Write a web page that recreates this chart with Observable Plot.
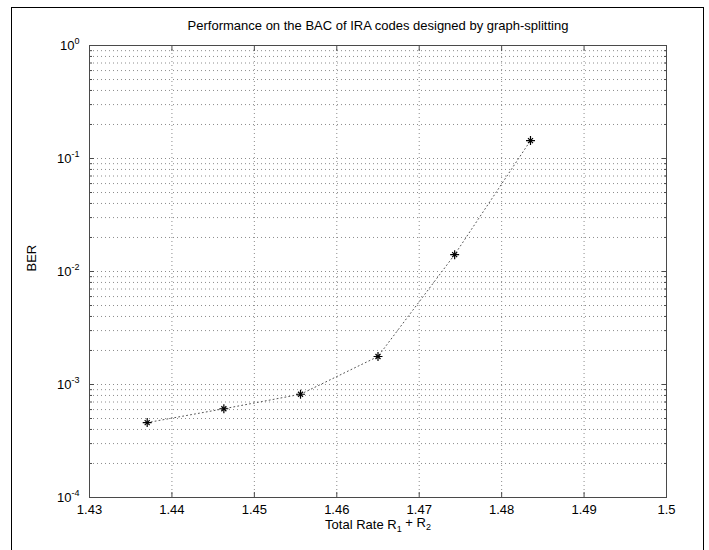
<!DOCTYPE html>
<html><head><meta charset="utf-8">
<script src="https://cdn.jsdelivr.net/npm/d3@7"></script>
<script src="https://cdn.jsdelivr.net/npm/@observablehq/plot@0.6"></script>
<style>
body{margin:0;background:#fff;}
#wrap{position:relative;width:709px;height:550px;overflow:hidden;background:#fff;}
#border{position:absolute;left:11px;top:7px;width:693px;height:620px;border:1.5px solid #000;box-sizing:border-box;}
#chart{position:absolute;left:0;top:0;}
</style></head><body><div id="wrap"><div id="border"></div><div id="chart"></div></div>
<script>
const rate = [1.4370, 1.4463, 1.4556, 1.4650, 1.4743, 1.4835];
const ber = [4.6e-4, 6.1e-4, 8.2e-4, 1.77e-3, 1.41e-2, 1.44e-1];
const xTicks = [1.43, 1.44, 1.45, 1.46, 1.47, 1.48, 1.49, 1.5];
const yMajor = [1e-4, 1e-3, 1e-2, 1e-1, 1];
const yMinor = [-4, -3, -2, -1].flatMap(e => [2, 3, 4, 5, 6, 7, 8, 9].map(m => +(m * Math.pow(10, e)).toPrecision(3)));
const title = "Performance on the BAC of IRA codes designed by graph-splitting";
const xLabel = "Total Rate R1 + R2";
const yLabel = "BER";

const data = rate.map((r, i) => ({rate: r, ber: ber[i]}));
const font = '"Liberation Sans", Arial, Helvetica, sans-serif';
const gridStyle = {stroke: "#8c8c8c", strokeOpacity: 1, strokeWidth: 1, strokeDasharray: "1,3"};
const axisColor = "#4a4a4a";

const chart = Plot.plot({
  width: 709, height: 550,
  marginLeft: 89, marginRight: 43, marginTop: 45, marginBottom: 53,
  style: {fontFamily: font, fontSize: "13px", background: "transparent", color: "#000", overflow: "visible"},
  x: {domain: [1.43, 1.5]},
  y: {type: "log", domain: [1e-4, 1]},
  marks: [
    Plot.gridX(xTicks, gridStyle),
    Plot.gridY([...yMinor, ...yMajor], gridStyle),
    Plot.frame({stroke: axisColor, strokeWidth: 1}),
    Plot.axisX({anchor: "bottom", ticks: xTicks, tickSize: -5, tickPadding: 12, stroke: axisColor, tickFormat: d => String(d), label: null}),
    Plot.axisX({anchor: "top", ticks: xTicks, tickSize: -5, stroke: axisColor, tickFormat: () => "", label: null}),
    Plot.axisY({anchor: "left", ticks: yMajor, tickSize: -5, tickPadding: 15, stroke: axisColor, tickFormat: d => "10^" + Math.round(Math.log10(d)), label: null}),
    Plot.axisY({anchor: "left", ticks: yMinor, tickSize: -3, stroke: axisColor, tickFormat: () => "", label: null}),
    Plot.axisY({anchor: "right", ticks: yMajor, tickSize: -5, stroke: axisColor, tickFormat: () => "", label: null}),
    Plot.axisY({anchor: "right", ticks: yMinor, tickSize: -3, stroke: axisColor, tickFormat: () => "", label: null}),
    Plot.line(data, {x: "rate", y: "ber", stroke: "#555", strokeWidth: 1, strokeDasharray: "1,3"}),
    Plot.dot(data, {x: "rate", y: "ber", symbol: "plus", r: 3.0, stroke: "#000", strokeWidth: 1.2}),
    Plot.dot(data, {x: "rate", y: "ber", symbol: "times", r: 2.4, stroke: "#000", strokeWidth: 1.2}),
    Plot.text([title], {text: d => d, frameAnchor: "top", dy: -25, fontSize: 13, fill: "#000"}),
    Plot.text([xLabel], {text: d => d, frameAnchor: "bottom", dy: 31, fontSize: 13, fill: "#000"}),
    Plot.text([yLabel], {text: d => d, frameAnchor: "left", dx: -58, rotate: -90, fontSize: 13, fill: "#000"})
  ]
});
document.getElementById("chart").appendChild(chart);

const svg = d3.select(chart);
// superscript exponents on y tick labels
svg.selectAll('g[aria-label="y-axis tick label"] text').each(function() {
  const t = d3.select(this);
  const s = t.text();
  if (!s.startsWith("10^")) return;
  const exp = s.slice(3);
  t.text("10");
  t.append("tspan").attr("dy", "-0.6em").attr("font-size", "9px").text(exp);
});
// subscripts on x label
svg.selectAll("text").each(function() {
  const t = d3.select(this);
  if (t.text() !== xLabel) return;
  t.text("");
  t.append("tspan").text("Total Rate R");
  t.append("tspan").attr("dy", "0.35em").attr("font-size", "9px").text("1");
  t.append("tspan").attr("dy", "-0.35em").text(" + R");
  t.append("tspan").attr("dy", "0.35em").attr("font-size", "9px").text("2");
});
</script>
</body></html>
